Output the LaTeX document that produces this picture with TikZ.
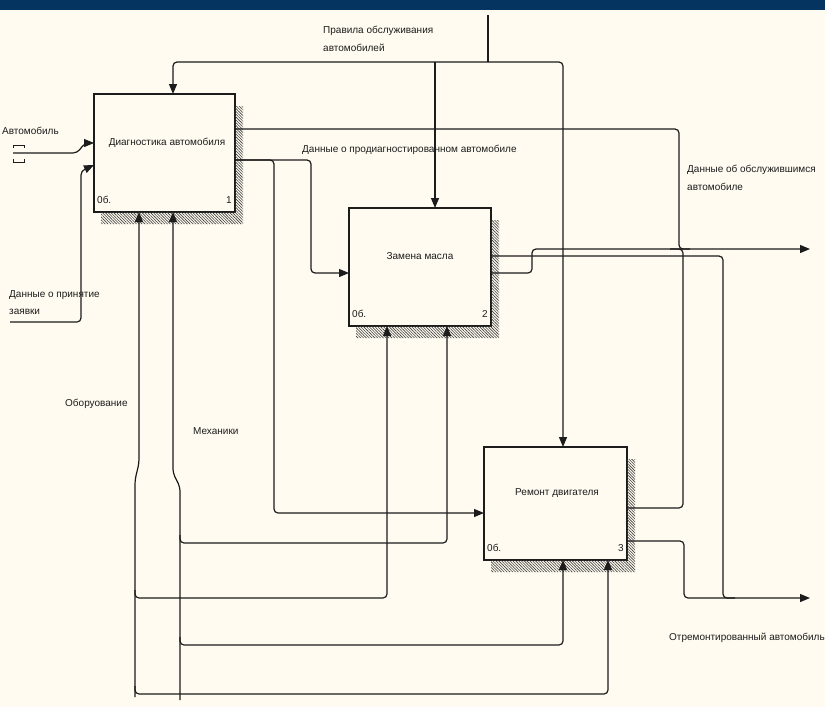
\documentclass[tikz,border=0pt]{standalone}
\usepackage{fontspec}
\setmainfont{Liberation Sans}
\usetikzlibrary{arrows.meta,calc,patterns.meta}
\definecolor{bg}{RGB}{255,251,240}
\definecolor{band}{RGB}{6,52,97}
\definecolor{ink}{RGB}{28,28,28}
\begin{document}
\begin{tikzpicture}[x=1pt,y=-1pt,
  box/.style={draw=ink, line width=1.2pt, fill=bg, anchor=north west, inner sep=0pt, outer sep=0pt},
  ln/.style={draw=ink, line width=1.2pt, rounded corners=4pt},
  arr/.style={ln, -{Triangle[length=10pt,width=8pt]}},
  lbl/.style={font=\fontsize{10}{17.5}\selectfont, text=ink, inner sep=0pt, align=left},
  shd/.style={pattern={Lines[angle=-45,distance=2pt,line width=0.6pt]}, pattern color=ink!85}]
\useasboundingbox (0,0) rectangle (825,707);
\fill[bg] (0,0) rectangle (825,707);
\fill[band] (0,0) rectangle (825,10);

% boxes
\node[box, minimum width=141pt, minimum height=118pt] (b1) at (94,94) {};
\node[box, minimum width=142pt, minimum height=118pt] (b2) at (349,208) {};
\node[box, minimum width=143pt, minimum height=113pt] (b3) at (484,447) {};

% shadows
\foreach \b in {b1,b2,b3}{
  \path[shd] ($(\b.north east)+(0,12)$) -- ($(\b.north east)+(8,12)$) -- ($(\b.south east)+(8,12)$)
    -- ($(\b.south west)+(7,12)$) -- ($(\b.south west)+(7,0)$) -- (\b.south east) -- cycle;
}

% box texts
\node[lbl] (t1) at ($(b1.north west)+(73,49)$) {Диагностика автомобиля};
\node[lbl, anchor=west] (n1a) at ($(b1.south west)+(3,-12)$) {0б.};
\node[lbl, anchor=east] (n1b) at ($(b1.south east)+(-3,-12)$) {1};
\node[lbl] (t2) at ($(b2.north west)+(71,48)$) {Замена масла};
\node[lbl, anchor=west] (n2a) at ($(b2.south west)+(3,-12)$) {0б.};
\node[lbl, anchor=east] (n2b) at ($(b2.south east)+(-3,-12)$) {2};
\node[lbl] (t3) at ($(b3.north west)+(73,46)$) {Ремонт двигателя};
\node[lbl, anchor=west] (n3a) at ($(b3.south west)+(3,-12)$) {0б.};
\node[lbl, anchor=east] (n3b) at ($(b3.south east)+(-3,-12)$) {3};

% free ends
\coordinate (ctop) at (488,15);
\coordinate (jc) at (488,62);
\coordinate (inA) at (13,153);
\coordinate (inB) at (10,322);
\coordinate (oData) at (810,249);
\coordinate (oRep) at (810,598);
\coordinate (mEq) at (135,697);
\coordinate (mMech) at (180,700);

% control: rules
\draw[ln] (ctop) -- (jc);
\draw[arr] (jc) -- (173,62) -- ($(b1.north west)+(79,0)$);
\draw[arr] (jc) -- (563,62) -- ($(b3.north west)+(79,0)$);
\draw[arr] (435,62) -- ($(b2.north west)+(86,0)$);

% inputs
\draw[arr] (inA) -- (77,153) -- (85,143) -- ($(b1.north west)+(0,49)$);
\draw[ln, rounded corners=0pt, line width=1pt] (13,148) -- (13,145) -- (24,145) -- (24,148);
\draw[ln, rounded corners=0pt, line width=1pt] (13,159) -- (13,162) -- (24,162) -- (24,159);
\draw[arr] (inB) -- (81,322) -- (81,171) -- ($(b1.north west)+(0,71)$);

% box1 outputs
\draw[ln] ($(b1.north west)+(141,35)$) -- (679,129) -- (679,249) -- (690,249);
\draw[arr] ($(b1.north west)+(141,66)$) -- (311,160) -- (311,273) -- ($(b2.north west)+(0,65)$);
\draw[arr] ($(b1.north west)+(141,66)$) -- (274,160) -- (274,513) -- ($(b3.north west)+(0,66)$);

% box2 outputs
\draw[arr] ($(b2.north west)+(142,65)$) -- (532,273) -- (532,249) -- (oData);
\draw[ln] ($(b2.north west)+(142,48)$) -- (723,256) -- (723,598) -- (735,598);

% box3 outputs
\draw[ln] ($(b3.north west)+(143,61)$) -- (683,508) -- (683,249) -- (670,249);
\draw[arr] ($(b3.north west)+(143,94)$) -- (684,541) -- (684,598) -- (oRep);

% mechanisms
\draw[arr] (mEq) -- (135,480) -- (139,463) -- ($(b1.south west)+(45,0)$);
\draw[arr] (mMech) -- (180,487) -- (173,473) -- ($(b1.south west)+(79,0)$);
\draw[arr] (135,590) -- (135,598) -- (387,598) -- ($(b2.south west)+(38,0)$);
\draw[arr] (135,686) -- (135,694) -- (608,694) -- ($(b3.south west)+(124,0)$);
\draw[arr] (180,535) -- (180,543) -- (447,543) -- ($(b2.south west)+(98,0)$);
\draw[arr] (180,637) -- (180,645) -- (563,645) -- ($(b3.south west)+(79,0)$);

% labels
\node[lbl, anchor=north west] (lR) at (323,26) {Правила обслуживания\\автомобилей};
\node[lbl, anchor=west] (lA) at (2,131) {Автомобиль};
\node[lbl, anchor=north west] (lB) at (9,290) {Данные о принятие\\заявки};
\node[lbl, anchor=west] (lD) at (302,150) {Данные о продиагностированном автомобиле};
\node[lbl, anchor=north west] (lS) at (687,165) {Данные об обслужившимся\\автомобиле};
\node[lbl, anchor=west] (lE) at (65,404) {Оборуование};
\node[lbl, anchor=west] (lM) at (193,431) {Механики};
\node[lbl, anchor=west] (lO) at (669,638) {Отремонтированный автомобиль};
\end{tikzpicture}
\end{document}
